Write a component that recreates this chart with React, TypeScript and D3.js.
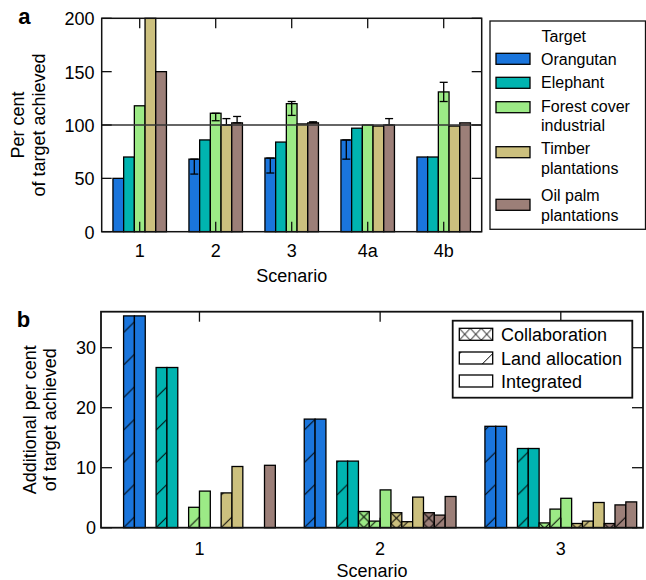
import React from 'react';
import * as d3 from 'd3';

// ---------------- Panel a data ----------------
const scenariosA = ['1', '2', '3', '4a', '4b'];
const targetKeys = ['orangutan', 'elephant', 'forest', 'timber', 'oilpalm'];
const targetLegend = [['Orangutan'], ['Elephant'], ['Forest cover', 'industrial'], ['Timber', 'plantations'], ['Oil palm', 'plantations']];
const targetColors = ['#1a75dc', '#00b4b0', '#9cea86', '#ccc07e', '#9c7f78'];

const orangutanA = [50, 68, 69, 86, 70];
const elephantA = [70, 86, 84, 97, 70];
const forestA = [118, 111, 120, 100, 131];
const timberA = [200, 100, 101, 99, 99];
const oilPalmA = [150, 102, 102, 100, 102];

// error bar ends [low, high]; null = no error bar
const orangutanErrA = [null, [54, 68], [55, 69], [68, 86], null];
const elephantErrA = [null, null, null, null, null];
const forestErrA = [null, [104, 111], [109, 122], null, [122, 140]];
const timberErrA = [null, [100, 106], null, null, null];
const oilPalmErrA = [null, [102, 108], [102, 103], [100, 106], null];

const yTicksA = [0, 50, 100, 150, 200];
const refLineA = 100;

// ---------------- Panel b data ----------------
const scenariosB = ['1', '2', '3'];
const methodsB = ['Collaboration', 'Land allocation', 'Integrated'];
// per target, values for scenarios 1,2,3
const collaborationB = [
  [0, 0, 0],
  [0, 0, 0],
  [0, 2.7, 0.8],
  [0, 2.5, 0.7],
  [0, 2.5, 0.7],
];
const landAllocationB = [
  [35.3, 18.1, 16.9],
  [26.7, 11.1, 13.2],
  [3.4, 1.1, 3.1],
  [5.8, 1.0, 1.1],
  [0, 2.1, 3.8],
];
const integratedB = [
  [35.3, 18.1, 16.9],
  [26.7, 11.1, 13.2],
  [6.1, 6.3, 4.9],
  [10.2, 5.1, 4.2],
  [10.4, 5.2, 4.3],
];
const yTicksB = [0, 10, 20, 30];

const FONT = "'Liberation Sans', Arial, Helvetica, sans-serif";

export default function App() {
  // ---- panel a scales ----
  const A = { l: 101.7, r: 481.7, t: 18.3, b: 231.7 };
  const xA = d3.scaleBand<string>().domain(scenariosA).range([A.l, A.r]).paddingInner(0.296).paddingOuter(0.148);
  const xInA = d3.scaleBand<string>().domain(targetKeys).range([0, xA.bandwidth()]);
  const yA = d3.scaleLinear().domain([0, 200]).range([A.b, A.t]);
  const seriesA = [orangutanA, elephantA, forestA, timberA, oilPalmA];
  const errA = [orangutanErrA, elephantErrA, forestErrA, timberErrA, oilPalmErrA];
  const centerA = (s: string) => (xA(s) as number) + xA.bandwidth() / 2;

  // ---- panel b scales ----
  const B = { l: 101, r: 643, t: 311.7, b: 527.7 };
  const xB = d3.scaleLinear().domain([0.455, 3.455]).range([B.l, B.r]);
  const yB = d3.scaleLinear().domain([0, 36]).range([B.b, B.t]);
  const slotW = xB(0.06) - xB(0);
  const dataB = [collaborationB, landAllocationB, integratedB];

  const barsB: any[] = [];
  const defs: any[] = [];
  scenariosB.forEach((s, si) => {
    targetKeys.forEach((tk, ti) => {
      methodsB.forEach((m, mi) => {
        const v = dataB[mi][ti][si];
        if (v <= 0) return;
        const slot = ti * 3 + mi;
        const left = xB(+s) + (slot - 8) * slotW;
        const top = yB(v);
        const id = `pb-${si}-${ti}-${mi}`;
        let fill = targetColors[ti];
        if (mi === 0) {
          defs.push(
            <pattern key={id} id={id} patternUnits="userSpaceOnUse" x={left} y={top} width={slotW} height={slotW}>
              <rect width={slotW} height={slotW} fill={targetColors[ti]} />
              <line x1={0} y1={0} x2={slotW} y2={slotW} stroke="#000" strokeWidth={1} />
              <line x1={slotW} y1={0} x2={0} y2={slotW} stroke="#000" strokeWidth={1} />
            </pattern>
          );
          fill = `url(#${id})`;
        } else if (mi === 1) {
          const P = slotW * 3;
          defs.push(
            <pattern key={id} id={id} patternUnits="userSpaceOnUse" x={left} y={yB(0)} width={slotW} height={P}>
              <rect width={slotW} height={P} fill={targetColors[ti]} />
              <line x1={0} y1={P} x2={slotW} y2={P - slotW} stroke="#000" strokeWidth={1} />
            </pattern>
          );
          fill = `url(#${id})`;
        }
        barsB.push(
          <rect key={'b' + id} x={left} y={top} width={slotW} height={yB(0) - top} fill={fill} stroke="#000" strokeWidth={1.3} />
        );
      });
    });
  });

  // legend a rows
  const legA = { x: 490, y: 21, w: 155.5, h: 208.3 };
  const legARows = [53.3, 77.3, 101.7, 146.7, 199.3];
  const legATextFirst = [64.6, 88.3, 111.6, 154.3, 201.3];

  // legend b
  const legB = { x: 452.7, y: 320.7, w: 179.6, h: 77 };
  const legBRows = [334.3, 358, 381];
  const swB = { x: 459.3, w: 33.4, h: 12 };

  return (
    <svg width={646} height={580} style={{ position: 'absolute', left: 0, top: 0, background: '#fff' }} fontFamily={FONT}>
      <defs>
        {defs}
        <pattern id="legCollab" patternUnits="userSpaceOnUse" x={swB.x} y={legBRows[0] - swB.h / 2} width={11} height={swB.h}>
          <rect width={11} height={swB.h} fill="#fff" />
          <line x1={0} y1={0} x2={11} y2={swB.h} stroke="#000" strokeWidth={1} />
          <line x1={11} y1={0} x2={0} y2={swB.h} stroke="#000" strokeWidth={1} />
        </pattern>
        <pattern id="legLand" patternUnits="userSpaceOnUse" x={swB.x + 2} y={legBRows[1] - swB.h / 2} width={33} height={33}>
          <rect width={33} height={33} fill="#fff" />
          <line x1={0} y1={33} x2={33} y2={0} stroke="#000" strokeWidth={1} />
        </pattern>
      </defs>

      {/* ================= Panel a ================= */}
      <text x={18.3} y={24} fontSize={22} fontWeight="bold">a</text>
      {seriesA.map((vals, i) =>
        vals.map((v, j) => {
          const s = scenariosA[j];
          const x = (xA(s) as number) + (xInA(targetKeys[i]) as number);
          return (
            <rect key={`a-${i}-${j}`} x={x} y={yA(v)} width={xInA.bandwidth()} height={yA(0) - yA(v)}
              fill={targetColors[i]} stroke="#000" strokeWidth={1.3} />
          );
        })
      )}
      {errA.map((errs, i) =>
        errs.map((e, j) => {
          if (!e) return null;
          const s = scenariosA[j];
          const cx = (xA(s) as number) + (xInA(targetKeys[i]) as number) + xInA.bandwidth() / 2;
          const y1 = yA(e[0]);
          const y2 = yA(e[1]);
          return (
            <g key={`e-${i}-${j}`} stroke="#000" strokeWidth={1.3}>
              <line x1={cx} x2={cx} y1={y1} y2={y2} />
              <line x1={cx - 4} x2={cx + 4} y1={y1} y2={y1} />
              <line x1={cx - 4} x2={cx + 4} y1={y2} y2={y2} />
            </g>
          );
        })
      )}
      <line x1={A.l} x2={A.r} y1={yA(refLineA)} y2={yA(refLineA)} stroke="#333" strokeWidth={1.6} />
      {/* frame */}
      <rect x={A.l} y={A.t} width={A.r - A.l} height={A.b - A.t} fill="none" stroke="#111" strokeWidth={1.5} />
      {yTicksA.map((t) => (
        <g key={'ya' + t}>
          <line x1={A.l} x2={A.l + 10} y1={yA(t)} y2={yA(t)} stroke="#111" strokeWidth={1.3} />
          <line x1={A.r} x2={A.r - 10} y1={yA(t)} y2={yA(t)} stroke="#111" strokeWidth={1.3} />
          <text x={94.5} y={yA(t) + 7} fontSize={18} textAnchor="end">{t}</text>
        </g>
      ))}
      {scenariosA.map((s) => (
        <g key={'xa' + s}>
          <line x1={centerA(s)} x2={centerA(s)} y1={A.t} y2={A.t + 10} stroke="#111" strokeWidth={1.3} />
          <line x1={centerA(s)} x2={centerA(s)} y1={A.b} y2={A.b - 10} stroke="#111" strokeWidth={1.3} />
          <text x={centerA(s)} y={256.5} fontSize={18} textAnchor="middle">{s}</text>
        </g>
      ))}
      <text x={(A.l + A.r) / 2} y={281.5} fontSize={18} textAnchor="middle">Scenario</text>
      <text transform={`translate(24,${(A.t + A.b) / 2}) rotate(-90)`} fontSize={18} textAnchor="middle">Per cent</text>
      <text transform={`translate(45,${(A.t + A.b) / 2}) rotate(-90)`} fontSize={18} textAnchor="middle">of target achieved</text>

      {/* legend a */}
      <rect x={legA.x} y={legA.y} width={legA.w} height={legA.h} fill="#fff" stroke="#111" strokeWidth={1.3} />
      <text x={541.5} y={42.3} fontSize={16}>Target</text>
      {targetLegend.map((lines, i) => (
        <g key={'la' + i}>
          <rect x={496} y={legARows[i]} width={34} height={11} fill={targetColors[i]} stroke="#000" strokeWidth={1.3} />
          {lines.map((ln, k) => (
            <text key={k} x={541} y={legATextFirst[i] + k * 19.5} fontSize={16}>{ln}</text>
          ))}
        </g>
      ))}

      {/* ================= Panel b ================= */}
      <text x={16.7} y={326.7} fontSize={22} fontWeight="bold">b</text>
      {barsB}
      <rect x={B.l} y={B.t} width={B.r - B.l} height={B.b - B.t} fill="none" stroke="#111" strokeWidth={1.8} />
      {yTicksB.map((t) => (
        <g key={'yb' + t}>
          <line x1={B.l} x2={B.l + 11} y1={yB(t)} y2={yB(t)} stroke="#111" strokeWidth={1.3} />
          <line x1={B.r} x2={B.r - 11} y1={yB(t)} y2={yB(t)} stroke="#111" strokeWidth={1.3} />
          <text x={96} y={yB(t) + 6.5} fontSize={18} textAnchor="end">{t}</text>
        </g>
      ))}
      {scenariosB.map((s) => (
        <g key={'xb' + s}>
          <line x1={xB(+s)} x2={xB(+s)} y1={B.t} y2={B.t + 10} stroke="#111" strokeWidth={1.3} />
          <line x1={xB(+s)} x2={xB(+s)} y1={B.b} y2={B.b - 10} stroke="#111" strokeWidth={1.3} />
          <text x={xB(+s)} y={555} fontSize={18} textAnchor="middle">{s}</text>
        </g>
      ))}
      <text x={(B.l + B.r) / 2} y={577} fontSize={18} textAnchor="middle">Scenario</text>
      <text transform={`translate(36,${(B.t + B.b) / 2}) rotate(-90)`} fontSize={18} textAnchor="middle">Additional per cent</text>
      <text transform={`translate(56,${(B.t + B.b) / 2}) rotate(-90)`} fontSize={18} textAnchor="middle">of target achieved</text>

      {/* legend b */}
      <rect x={legB.x} y={legB.y} width={legB.w} height={legB.h} fill="#fff" stroke="#111" strokeWidth={1.8} />
      {methodsB.map((m, i) => (
        <g key={'lb' + m}>
          <rect x={swB.x} y={legBRows[i] - swB.h / 2} width={swB.w} height={swB.h}
            fill={i === 0 ? 'url(#legCollab)' : i === 1 ? 'url(#legLand)' : '#fff'} stroke="#000" strokeWidth={1.3} />
          <text x={501} y={legBRows[i] + 6.5} fontSize={18}>{m}</text>
        </g>
      ))}
    </svg>
  );
}
